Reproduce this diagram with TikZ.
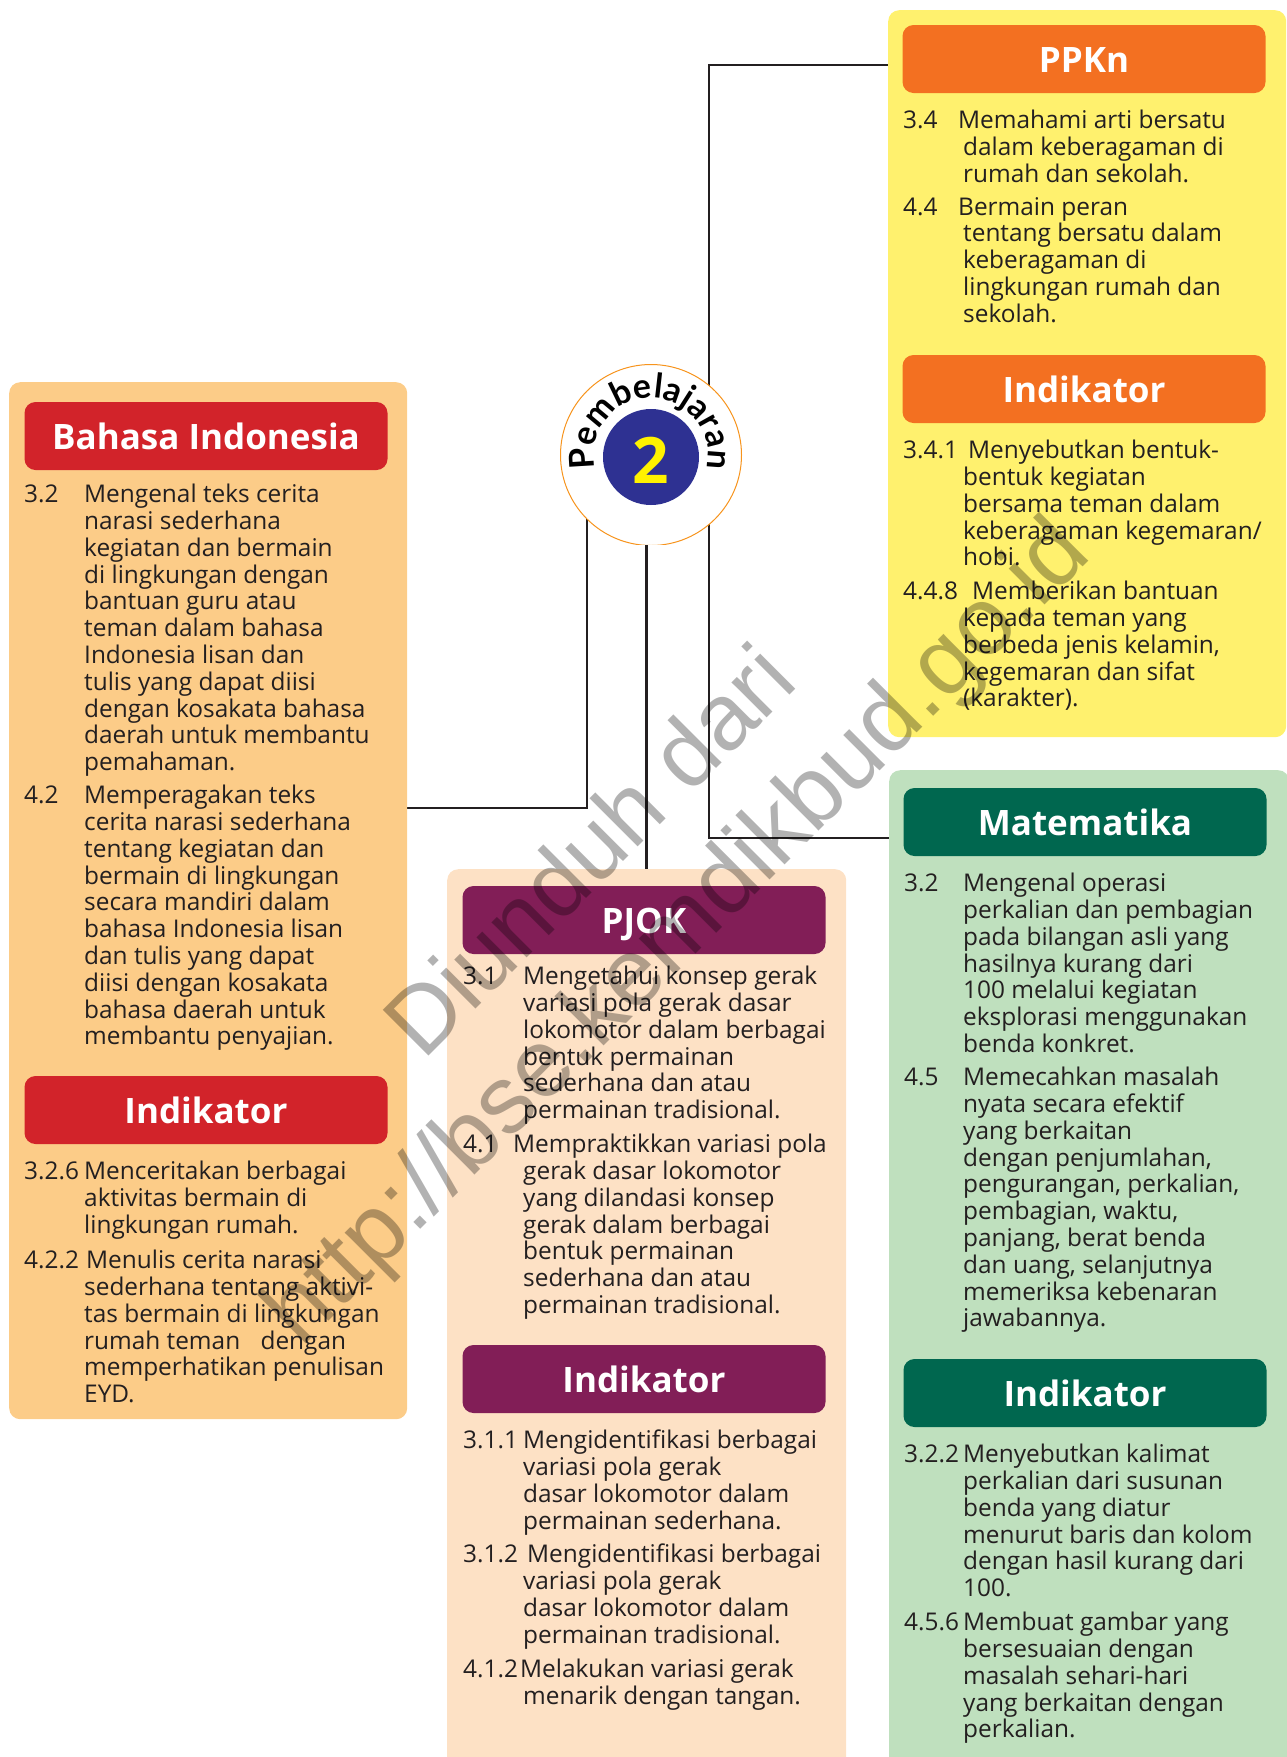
\documentclass[tikz,border=0pt]{standalone}
\usepackage{fontspec}
\setmainfont{Open Sans}
\newfontfamily\markfont{Liberation Sans}
\newfontfamily\badgefont{Lato}
\usetikzlibrary{decorations.text,backgrounds}
\definecolor{bicream}{HTML}{FCCC88}
\definecolor{bired}{HTML}{D2232A}
\definecolor{ppknyellow}{HTML}{FFF16E}
\definecolor{ppknorange}{HTML}{F37021}
\definecolor{mtkmint}{HTML}{BFE0BE}
\definecolor{mtkgreen}{HTML}{00674F}
\definecolor{pjokpeach}{HTML}{FDE1C5}
\definecolor{pjokplum}{HTML}{821E57}
\definecolor{badgeblue}{HTML}{2E3192}
\definecolor{badgeyellow}{HTML}{FFF200}
\definecolor{badgerim}{HTML}{F7941D}
\definecolor{inkdark}{HTML}{231F20}
\tikzset{
  panel/.style={fill=#1,anchor=north west,rounded corners=11pt,inner sep=0pt},
  headbar/.style={fill=#1,rounded corners=11pt,minimum width=363pt,minimum height=68pt,inner sep=0pt,
    text height=27pt,text depth=0pt,text=white,font=\fontsize{35}{38}\selectfont\bfseries},
  item/.style={anchor=north west,inner sep=0pt,yshift=-1pt,align=left,text=inkdark,
    font=\fontsize{24.4}{26.8}\selectfont,execute at begin node=\strut},
  link/.style={line width=2.8pt,draw=inkdark},
  watermark/.style={text=black,text opacity=0.3,inner sep=0pt,anchor=base west,rotate=45,font=\fontsize{#1}{100}\markfont}
}
\begin{document}
\begin{tikzpicture}[x=1pt,y=1pt]
\clip[use as bounding box] (0,0) rectangle (1287,-1757);
% panels
\node (panelbi) [panel=bicream,minimum width=398pt,minimum height=1037pt] at (9,-382) {};
\node (panelppkn) [panel=ppknyellow,minimum width=398pt,minimum height=727pt] at (888,-10) {};
\node (panelmtk) [panel=mtkmint,minimum width=400pt,minimum height=1010pt] at (889,-770) {};
\node (panelpjok) [panel=pjokpeach,minimum width=399pt,minimum height=910pt] at (447,-869) {};
% bars
\node (headbi) [headbar=bired] at (206,-436) {Bahasa Indonesia};
\node (indbi) [headbar=bired] at (206,-1110) {Indikator};
\node (headppkn) [headbar=ppknorange] at (1084,-59) {PPKn};
\node (indppkn) [headbar=ppknorange] at (1084,-389) {Indikator};
\node (headmtk) [headbar=mtkgreen] at (1085,-822) {Matematika};
\node (indmtk) [headbar=mtkgreen] at (1085,-1393) {Indikator};
\node (headpjok) [headbar=pjokplum] at (644,-920) {PJOK};
\node (indpjok) [headbar=pjokplum] at (644,-1379) {Indikator};
% badge
\begin{scope}
\clip (550,-350) rectangle (760,-544);
\node (badge) [circle,draw=badgerim,fill=white,line width=1pt,minimum size=181pt,inner sep=0pt] at (651,-455) {};
\end{scope}
\node (badgedisc) [circle,fill=badgeblue,minimum size=96pt,inner sep=0pt] at (651,-457) {};
\node (badgenum) [text=badgeyellow,inner sep=0pt,font=\fontsize{64}{68}\selectfont\bfseries] at (651,-460) {2};
\path[decorate,decoration={text along path,text align={fit to path},
  text={|\badgefont\fontsize{34}{38}\selectfont\bfseries|Pembelajaran}}]
  (badge.center) ++(194:57) arc (194:-14:57);
% connectors
\coordinate (kneebi) at (587,-808);
\coordinate (kneeppkn) at (709,-65);
\coordinate (kneemtk) at (709,-838);
\begin{scope}[on background layer]
\draw[link] (panelbi.east |- kneebi) -- (kneebi) -- (kneebi |- badge.center);
\draw[link] (panelpjok.north) -- (panelpjok.north |- badge.center);
\draw[link] (panelppkn.west |- kneeppkn) -- (kneeppkn) -- (kneeppkn |- badge.center);
\draw[link] (panelmtk.west |- kneemtk) -- (kneemtk) -- (kneemtk |- badge.center);
\end{scope}
% bahasa indonesia
\node (bin1) [item] at (24,-483) {3.2};
\node (bit1) [item] at (84,-483) {Mengenal teks cerita\\narasi sederhana\\kegiatan dan bermain\\di lingkungan dengan\\bantuan guru atau\\teman dalam bahasa\\Indonesia lisan dan\\tulis yang dapat diisi\\dengan kosakata bahasa\\daerah untuk membantu\\pemahaman.};
\node (bin2) [item] at (24,-784) {4.2};
\node (bit2) [item] at (84,-784) {Memperagakan teks\\cerita narasi sederhana\\tentang kegiatan dan\\bermain di lingkungan\\secara mandiri dalam\\bahasa Indonesia lisan\\dan tulis yang dapat\\diisi dengan kosakata\\bahasa daerah untuk\\membantu penyajian.};
\node (bin3) [item] at (24,-1160) {3.2.6};
\node (bit3) [item] at (84,-1160) {Menceritakan berbagai\\aktivitas bermain di\\lingkungan rumah.};
\node (bin4) [item] at (24,-1249) {4.2.2};
\node (bit4) [item] at (84,-1249) {\hspace*{2pt}Menulis cerita narasi\\sederhana tentang aktivi-\\tas bermain di lingkungan\\rumah teman\hspace{14pt} dengan\\memperhatikan penulisan\\EYD.};
% ppkn
\node (ppn1) [item] at (903,-109) {3.4};
\node (ppt1) [item] at (963,-109) {\hspace*{-5pt}Memahami arti bersatu\\dalam keberagaman di\\rumah dan sekolah.};
\node (ppn2) [item] at (903,-196) {4.4};
\node (ppt2) [item] at (963,-196) {\hspace*{-5pt}Bermain peran\\tentang bersatu dalam\\keberagaman di\\lingkungan rumah dan\\sekolah.};
\node (ppn3) [item] at (903,-439) {3.4.1};
\node (ppt3) [item] at (963,-439) {\hspace*{5pt}Menyebutkan bentuk-\\bentuk kegiatan\\bersama teman dalam\\keberagaman kegemaran/\\hobi.};
\node (ppn4) [item] at (903,-580) {4.4.8};
\node (ppt4) [item] at (963,-580) {\hspace*{9pt}Memberikan bantuan\\kepada teman yang\\berbeda jenis kelamin,\\kegemaran dan sifat\\(karakter).};
% matematika
\node (mtn1) [item] at (904,-872) {3.2};
\node (mtt1) [item] at (963,-872) {Mengenal operasi\\perkalian dan pembagian\\pada bilangan asli yang\\hasilnya kurang dari\\100 melalui kegiatan\\eksplorasi menggunakan\\benda konkret.};
\node (mtn2) [item] at (904,-1066) {4.5};
\node (mtt2) [item] at (963,-1066) {Memecahkan masalah\\nyata secara efektif\\yang berkaitan\\dengan penjumlahan,\\pengurangan, perkalian,\\pembagian, waktu,\\panjang, berat benda\\dan uang, selanjutnya\\memeriksa kebenaran\\jawabannya.};
\node (mtn3) [item] at (904,-1443) {3.2.2};
\node (mtt3) [item] at (963,-1443) {Menyebutkan kalimat\\perkalian dari susunan\\benda yang diatur\\menurut baris dan kolom\\dengan hasil kurang dari\\100.};
\node (mtn4) [item] at (904,-1611) {4.5.6};
\node (mtt4) [item] at (963,-1611) {Membuat gambar yang\\bersesuaian dengan\\masalah sehari-hari\\yang berkaitan dengan\\perkalian.};
% pjok
\node (pjn1) [item] at (463,-965) {3.1};
\node (pjt1) [item] at (523,-965) {Mengetahui konsep gerak\\variasi pola gerak dasar\\lokomotor dalam berbagai\\bentuk permainan\\sederhana dan atau\\permainan tradisional.};
\node (pjn2) [item] at (463,-1133) {4.1};
\node (pjt2) [item] at (523,-1133) {\hspace*{-10pt}Mempraktikkan variasi pola\\gerak dasar lokomotor\\yang dilandasi konsep\\gerak dalam berbagai\\bentuk permainan\\sederhana dan atau\\permainan tradisional.};
\node (pjn3) [item] at (463,-1429) {3.1.1};
\node (pjt3) [item] at (523,-1429) {Mengidentifikasi berbagai\\variasi pola gerak\\dasar lokomotor dalam\\permainan sederhana.};
\node (pjn4) [item] at (463,-1543) {3.1.2};
\node (pjt4) [item] at (523,-1543) {\hspace*{4pt}Mengidentifikasi berbagai\\variasi pola gerak\\dasar lokomotor dalam\\permainan tradisional.};
\node (pjn5) [item] at (463,-1658) {4.1.2};
\node (pjt5) [item] at (523,-1658) {\hspace*{-3pt}Melakukan variasi gerak\\menarik dengan tangan.};
% watermark
\node (markone) [watermark=94] at (423,-1062) {Diunduh dari};
\node (marktwo) [watermark=96] at (301,-1349) {http://bse.kemdikbud.go.id};
\end{tikzpicture}
\end{document}
